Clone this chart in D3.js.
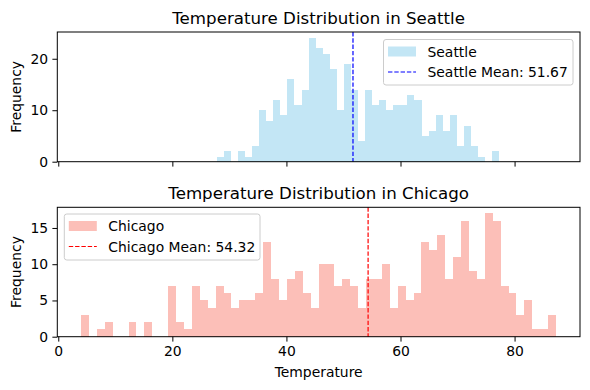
<!DOCTYPE html>
<html>
<head>
<meta charset="utf-8">
<script src="https://cdn.jsdelivr.net/npm/d3@7"></script>
<style>
  html, body { margin: 0; padding: 0; background: #fff; }
  svg { display: block; font-family: "DejaVu Sans", sans-serif; }
</style>
</head>
<body>
<svg id="chart" width="590" height="390"></svg>
<script>
// ---- data ----
const seattleCounts = [1,2,0,2,1,3,10,8,12,9,16,11,14,24,22,21,18,10,19,14,4,14,11,12,10,11,11,13,12,5,6,9,6,9,3,7,3,1,0,2];
const seattleStart = 27.79;
const seattleBinWidth = 1.238;
const seattleMean = 51.67;

const chicagoCounts = [3,0,1,2,0,0,2,0,2,0,0,7,2,1,7,5,4,7,6,4,5,5,6,13,8,5,8,9,6,4,10,10,7,8,7,4,8,8,10,4,7,5,6,13,12,14,8,11,16,9,8,17,16,7,6,3,5,1,1,3];
const chicagoStart = 3.99;
const chicagoBinWidth = 1.388;
const chicagoMean = 54.32;

const xTicks = [0, 20, 40, 60, 80];
const seattleYTicks = [0, 10, 20];
const chicagoYTicks = [0, 5, 10, 15];

const titles = ["Temperature Distribution in Seattle", "Temperature Distribution in Chicago"];
const xLabel = "Temperature";
const yLabel = "Frequency";

// ---- layout ----
const svg = d3.select("#chart");
const left = 57.3, right = 580;
const x = d3.scaleLinear().domain([-0.17, 91.47]).range([left, right]);

const panels = [
  { counts: seattleCounts, start: seattleStart, w: seattleBinWidth, mean: seattleMean,
    top: 32, bottom: 161.7, ymax: 25.2, yTicks: seattleYTicks,
    fill: "#87ceeb", line: "blue", name: "Seattle", title: titles[0], showXLabels: false,
    legend: { x: 383.5, y: 39.5, w: 189.5, h: 45.5 } },
  { counts: chicagoCounts, start: chicagoStart, w: chicagoBinWidth, mean: chicagoMean,
    top: 207.3, bottom: 336.7, ymax: 17.85, yTicks: chicagoYTicks,
    fill: "#fa8072", line: "red", name: "Chicago", title: titles[1], showXLabels: true,
    legend: { x: 64.3, y: 214, w: 195.7, h: 46 } }
];

panels.forEach(p => {
  const y = d3.scaleLinear().domain([0, p.ymax]).range([p.bottom, p.top]);
  const g = svg.append("g");

  // bars
  g.append("g").selectAll("rect")
    .data(p.counts.map((c, i) => ({ c, i })).filter(d => d.c > 0))
    .join("rect")
    .attr("x", d => x(p.start + d.i * p.w))
    .attr("width", d => x(p.start + (d.i + 1) * p.w) - x(p.start + d.i * p.w))
    .attr("y", d => y(d.c))
    .attr("height", d => y(0) - y(d.c))
    .attr("fill", p.fill)
    .attr("fill-opacity", 0.5)
    .attr("shape-rendering", "crispEdges");

  // mean line
  g.append("line")
    .attr("x1", x(p.mean)).attr("x2", x(p.mean))
    .attr("y1", p.top).attr("y2", p.bottom)
    .attr("stroke", p.line).attr("stroke-width", 1.2)
    .attr("stroke-dasharray", "4.4,1.9");

  // axes
  const xAxis = d3.axisBottom(x).tickValues(xTicks).tickSizeOuter(0).tickSize(4.9).tickPadding(4.2)
    .tickFormat(p.showXLabels ? d3.format("d") : () => "");
  const xa = g.append("g").attr("transform", `translate(0,${p.bottom})`).call(xAxis);
  xa.select(".domain").remove();

  const yAxis = d3.axisLeft(y).tickValues(p.yTicks).tickSizeOuter(0).tickSize(4.9).tickPadding(4.2)
    .tickFormat(d3.format("d"));
  const ya = g.append("g").attr("transform", `translate(${left},0)`).call(yAxis);
  ya.select(".domain").remove();

  [xa, ya].forEach(a => {
    a.selectAll("line").attr("stroke", "#000").attr("stroke-width", 1);
    a.selectAll("text").attr("font-size", 13.9).attr("fill", "#000")
      .attr("font-family", "DejaVu Sans, sans-serif");
  });

  // frame
  g.append("rect")
    .attr("x", left).attr("y", p.top)
    .attr("width", right - left).attr("height", p.bottom - p.top)
    .attr("fill", "none").attr("stroke", "#000").attr("stroke-width", 1);

  // title
  g.append("text")
    .attr("x", (left + right) / 2).attr("y", p.top - 8.5)
    .attr("text-anchor", "middle").attr("font-size", 16.67).attr("fill", "#000")
    .text(p.title);

  // y label
  g.append("text")
    .attr("transform", `translate(${21},${(p.top + p.bottom) / 2}) rotate(-90)`)
    .attr("text-anchor", "middle").attr("font-size", 13.9).attr("fill", "#000")
    .text(yLabel);

  // legend
  const L = p.legend;
  const lg = g.append("g").attr("transform", `translate(${L.x},${L.y})`);
  lg.append("rect")
    .attr("width", L.w).attr("height", L.h).attr("rx", 2.5)
    .attr("fill", "#fff").attr("fill-opacity", 0.8)
    .attr("stroke", "#cccccc").attr("stroke-width", 1);
  lg.append("rect")
    .attr("x", 4.5).attr("y", 7).attr("width", 28).attr("height", 10)
    .attr("fill", p.fill).attr("fill-opacity", 0.5);
  lg.append("line")
    .attr("x1", 4.5).attr("x2", 32.5).attr("y1", 32.5).attr("y2", 32.5)
    .attr("stroke", p.line).attr("stroke-width", 1.2)
    .attr("stroke-dasharray", "4.4,1.9");
  lg.append("text").attr("x", 44).attr("y", 17).attr("font-size", 13.9).attr("fill", "#000")
    .text(p.name);
  lg.append("text").attr("x", 44).attr("y", 37.5).attr("font-size", 13.9).attr("fill", "#000")
    .text(`${p.name} Mean: ${p.mean.toFixed(2)}`);
});

// x label
svg.append("text")
  .attr("x", (left + right) / 2).attr("y", 377)
  .attr("text-anchor", "middle").attr("font-size", 13.9).attr("fill", "#000")
  .text(xLabel);
</script>
</body>
</html>
